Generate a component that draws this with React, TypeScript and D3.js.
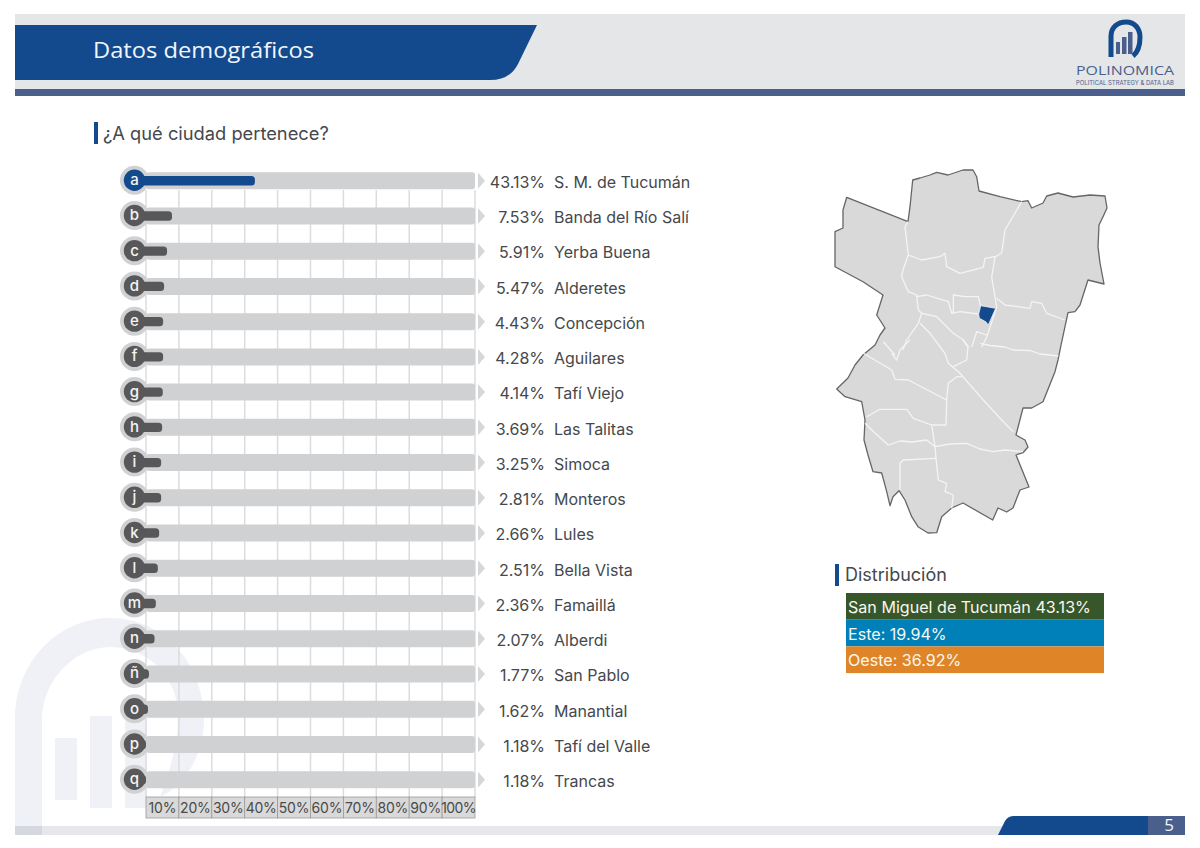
import React from "react";
import * as d3 from "d3";

const letters = ["a","b","c","d","e","f","g","h","i","j","k","l","m","n","ñ","o","p","q"];
const cities = ["S. M. de Tucumán","Banda del Río Salí","Yerba Buena","Alderetes","Concepción","Aguilares","Tafí Viejo","Las Talitas","Simoca","Monteros","Lules","Bella Vista","Famaillá","Alberdi","San Pablo","Manantial","Tafí del Valle","Trancas"];
const shares = ["43.13","7.53","5.91","5.47","4.43","4.28","4.14","3.69","3.25","2.81","2.66","2.51","2.36","2.07","1.77","1.62","1.18","1.18"];
// Length of each bar as drawn in the picture (first bar is drawn shorter than its label).
const drawnBars = [33.1,7.9,6.4,5.5,5.2,5.2,5.1,4.9,4.6,4.6,4.0,3.6,3.0,2.6,0.9,0.6,0,0];
const ticks = [10,20,30,40,50,60,70,80,90,100];
const distribution = [
  { label: "San Miguel de Tucumán 43.13%", color: "#37572b" },
  { label: "Este: 19.94%", color: "#0080b8" },
  { label: "Oeste: 36.92%", color: "#e08527" },
];

type P = [number, number];
const outline: P[] = [[846.7,197.3],[908,221.7],[910,206.7],[912.7,180],[920,178],[930,175],[936.7,172.3],[948,175],[963,170],[973,170],[976.7,176.7],[979,191],[1000,196.7],[1021.7,201.7],[1028,200.7],[1031.7,208],[1043,203],[1046.7,196],[1058,193],[1073,197],[1090,195],[1105,196],[1107,208],[1103,216.7],[1099,225],[1098,246.7],[1100,263],[1104,284],[1088,280],[1080,305],[1075,311.7],[1068,312.7],[1060.7,346.7],[1058,360],[1055,371.7],[1043,401.7],[1031.7,408],[1023,408],[1016,435],[1025,440],[1028,447],[1023,452.7],[1016,455],[1029,487],[1020,490],[1013,508],[1006.7,512],[998,508],[992.7,520],[963,503],[951.7,508],[941.7,516.7],[936.7,532.7],[928,533],[918,526.7],[911.7,516.7],[905,500],[899,490.7],[893,496.7],[890,505.7],[886.7,491.7],[881.7,473],[873,471.7],[868,455],[864,440],[865,420],[861.7,401.7],[845,396.7],[836.7,389],[848,378],[855,365],[863,355],[875,345],[880,335],[885,328],[876.7,315],[883,295],[863,281.7],[835,266.7],[835,231.7],[843,228],[843,210]];
const borders: P[][] = [
  [[1021.7,201.7],[1005,230],[1001.7,253],[995,257],[991.7,277],[995,297],[996.7,307],[986.7,337],[981.7,347]],
  [[908,221.7],[905,226.7],[908.3,255],[903,270],[901.7,276.7],[908.3,291.7],[916.7,295],[918.3,310],[921.7,313.3],[918.3,323.3],[906.7,340],[903,350]],
  [[908.3,255],[921.7,260],[940,256.7],[945,253.3],[946.7,266.7],[960,273.3],[983.3,267.3],[985,258.3],[995,256.7]],
  [[916.7,296.7],[926.7,295],[948.3,301.7],[951.7,313.3],[960,311.7],[978.3,314]],
  [[953.3,313.3],[953.3,295],[965,296.7],[978.3,296.7],[980.7,306.7]],
  [[996.7,298.3],[1005,305],[1030,308.3],[1031.7,301.7],[1041.7,303.3],[1046.7,313.3],[1065,320]],
  [[921.7,313.3],[936.7,316.7],[953.3,333.3],[963.3,340],[968.3,346.7]],
  [[920,323.3],[930,333.3],[935,340],[945,353.3],[948.3,363.3],[960,373.3],[971.7,386.7],[983.3,400],[1000,418.3],[1013.3,431.7]],
  [[980,343.3],[990,345.5],[1005,347],[1013,350],[1030,350.5],[1040,354],[1058.3,356]],
  [[863.3,353.3],[891.7,370],[895,379.3],[908.3,380],[946.7,400]],
  [[866.7,416.7],[880,409.3],[906.7,409.3],[913.3,418.3],[931.7,425],[946,425],[946.7,400],[948.3,383.3],[956.7,376.7],[961.7,376.7]],
  [[931.7,425],[935,446.7],[936,458.3],[938.3,480],[946.7,483.3],[945,491.7],[953.3,495],[951.7,508.3]],
  [[865,423.3],[875,433],[888.3,445],[900,441],[912,442],[926.7,440],[935,446.7],[950,444],[966.7,443.3],[980,449],[993.3,451.7],[1005,450],[1023,451.7]],
  [[936,458.3],[903.3,460],[900,463.3],[900,490]],
  [[883.3,341.7],[895,355]],
  [[910,340],[900,350],[896.7,360],[891.7,353.3]],
  [[963,340],[968,347],[966.7,360],[953.3,366.7]],
  [[986.7,335],[976.7,331.7],[971.7,346.7]],
];
const capital: P[] = [[980.7,305.7],[995.7,308.3],[988.3,325],[985.7,321.7],[979.3,318.3],[978.7,314]];

const BLUE = "#134a8e";
const SLATE = "#4a5f8c";
const FONT = "Inter, sans-serif";

export default function App() {
  const x = d3.scaleLinear().domain([0, 100]).range([146, 475]);
  const y = d3.scalePoint<string>().domain(letters).range([180.7, 779.7]);
  const textY = d3.scalePoint<string>().domain(letters).range([181.8, 781]);
  const line = d3.line<P>().curve(d3.curveLinear);
  const closed = d3.line<P>().curve(d3.curveLinearClosed);
  const logoBars = [[1116, 42, 4, 12], [1122, 37, 4.5, 17], [1128, 32, 4.5, 22]];
  return (
    <svg width={1200} height={848} style={{ position: "fixed", left: 0, top: 0, background: "#fff" }} fontFamily={FONT}>
      {/* watermark */}
      <g fill="#f0f1f7">
        <path d="M15,826 V720 C15,660 60,618 110,618 C165,618 204,665 204,720 C204,755 185,785 160,797 C170,770 178,745 178,715 C178,680 150,647 110,647 C75,647 42,680 42,720 V826 Z" />
        <rect x={55} y={738} width={22} height={62} />
        <rect x={90} y={716} width={22} height={92} />
        <rect x={125} y={700} width={22} height={108} />
      </g>
      {/* header */}
      <rect x={15} y={14} width={1170} height={76} fill="#e4e6e8" />
      <rect x={15} y={89} width={1170} height={7} fill={SLATE} />
      <path d="M15,25 H537 L518,64 Q510,80 490,80 H15 Z" fill={BLUE} />
      <text x={93} y={58} fontSize={21.5} fill="#f2f6fa" fontFamily="'Open Sans', sans-serif" textLength={221} lengthAdjust="spacingAndGlyphs">Datos demográficos</text>
      {/* logo */}
      <path d="M1111,57 V36 C1111,27 1118,22 1126,22 C1135,22 1140,29 1140,37 C1140,46 1138,52 1133,56" fill="none" stroke={BLUE} strokeWidth={5} />
      {logoBars.map((b, i) => <rect key={i} x={b[0]} y={b[1]} width={b[2]} height={b[3]} fill={SLATE} />)}
      <text x={1076} y={75} fontSize={13.5} fontWeight={500} fill={SLATE} fontFamily="'Open Sans', sans-serif" textLength={98} lengthAdjust="spacingAndGlyphs">POLINOMICA</text>
      <text x={1076} y={85} fontSize={5.5} fill={SLATE} textLength={98} lengthAdjust="spacingAndGlyphs">POLITICAL STRATEGY &amp; DATA LAB</text>
      {/* question title */}
      <rect x={94} y={122} width={4} height={22} fill={BLUE} />
      <text x={103} y={140} fontSize={18.3} fill="#45484c">¿A qué ciudad pertenece?</text>
      {/* grid */}
      {ticks.map((t) => (
        <line key={t} x1={x(t - 10)} x2={x(t - 10)} y1={190} y2={797} stroke="#dcdcdc" strokeWidth={1.5} />
      ))}
      <line x1={x(100)} x2={x(100)} y1={190} y2={797} stroke="#dcdcdc" strokeWidth={1.5} />
      {/* rows */}
      {letters.map((l, i) => {
        const cy = y(l)!;
        const ty = textY(l)!;
        const color = i === 0 ? BLUE : "#58585a";
        return (
          <g key={l}>
            <rect x={x(0)} y={cy - 8.5} width={x(100) - x(0)} height={17} rx={3} fill="#d0d1d2" />
            <path d={`M478,${cy - 8} L485,${cy} L478,${cy + 8} Z`} fill="#d6d7d8" />
            <circle cx={134.5} cy={cy - 0.5} r={14.5} fill="#d0d1d2" />
            <rect x={134} y={cy - 4.7} width={x(drawnBars[i]) - 134} height={9.4} rx={3.5} fill={color} />
            <circle cx={134.5} cy={cy - 0.5} r={10.7} fill={color} />
            <text x={134.5} y={cy + 4.5} fontSize={15} fontWeight={500} fill="#f4f4f4" textAnchor="middle">{l}</text>
            <text x={545} y={ty + 6} fontSize={16} fill="#45484c" textAnchor="end">{shares[i]}%</text>
            <text x={554} y={ty + 6} fontSize={16} fill="#45484c">{cities[i]}</text>
          </g>
        );
      })}
      {/* axis */}
      {ticks.map((t) => (
        <g key={t}>
          <rect x={x(t - 10)} y={797} width={x(t) - x(t - 10)} height={21} fill="#d9d9d9" stroke="#9a9a9a" strokeWidth={0.8} />
          <text x={(x(t - 10) + x(t)) / 2} y={812.5} fontSize={14} letterSpacing={t === 100 ? -0.6 : -0.2} fill="#4a4a4a" textAnchor="middle">{t}%</text>
        </g>
      ))}
      {/* map */}
      <path d={closed(outline)!} fill="#d9d9d9" stroke="#666" strokeWidth={1.3} strokeLinejoin="round" />
      {borders.map((b, i) => (
        <path key={i} d={line(b)!} fill="none" stroke="#f4f4f4" strokeWidth={1.3} strokeLinejoin="round" />
      ))}
      <path d={closed(capital)!} fill={BLUE} stroke="#f4f4f4" strokeWidth={0.8} />
      {/* distribution */}
      <rect x={835} y={564} width={4} height={22} fill={BLUE} />
      <text x={845} y={581} fontSize={18} fill="#45484c">Distribución</text>
      {distribution.map((d, i) => (
        <g key={d.label}>
          <rect x={846} y={593 + i * 26.7} width={258} height={26.7} fill={d.color} />
          <text x={848} y={613 + i * 26.7} fontSize={16.1} fill="#f7f7f0">{d.label}</text>
        </g>
      ))}
      {/* footer */}
      <rect x={15} y={826} width={990} height={9} fill="#e5e7ea" />
      <rect x={15} y={826} width={27} height={9} fill="#d5d8de" />
      <path d="M998,835 L1005,821 Q1008,816 1014,816 H1148 V835 Z" fill={BLUE} />
      <rect x={1148} y={816} width={37} height={19} fill={SLATE} />
      <text x={1169} y={831} fontSize={17} fill="#f2f4f8" textAnchor="middle" fontFamily="'Open Sans', sans-serif">5</text>
    </svg>
  );
}
